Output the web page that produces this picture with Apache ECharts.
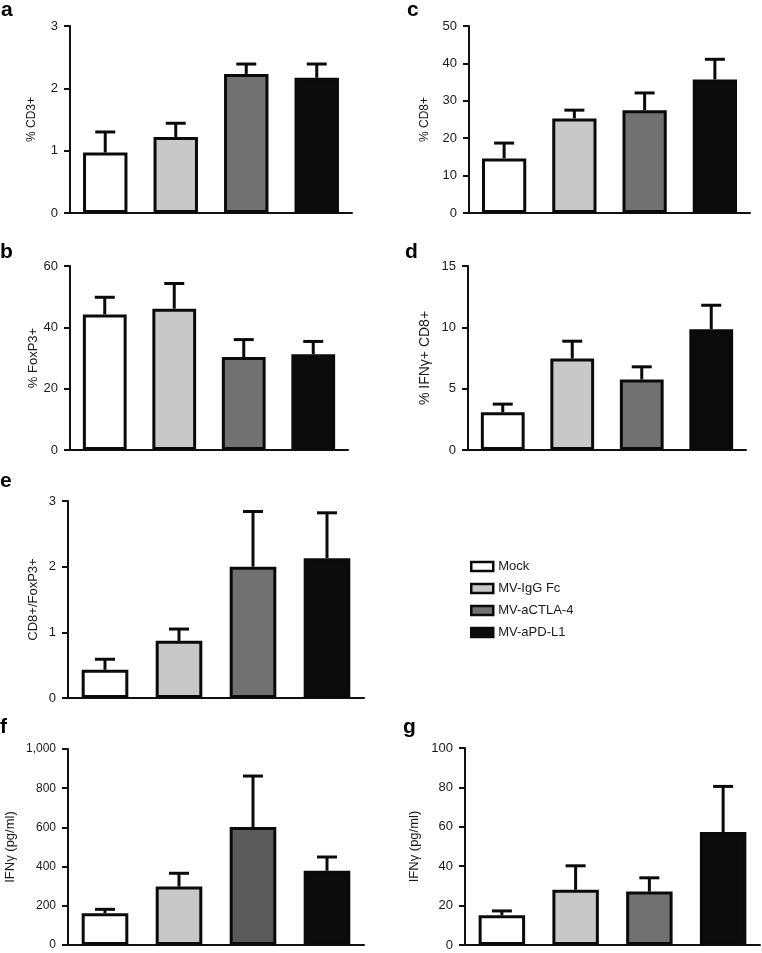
<!DOCTYPE html>
<html>
<head>
<meta charset="utf-8">
<script src="https://cdn.jsdelivr.net/npm/echarts@6/dist/echarts.min.js"></script>
<style>
html,body{margin:0;padding:0;background:#fff;}
#chart{width:762px;height:953px;}
</style>
</head>
<body>
<div id="chart"></div>
<script>
const categories = ['Mock', 'MV-IgG Fc', 'MV-aCTLA-4', 'MV-aPD-L1'];

const meanA = [0.97, 1.22, 2.23, 2.17];
const semA  = [0.33, 0.22, 0.16, 0.22];
const meanB = [44.2, 46.1, 30.3, 31.2];
const semB  = [5.6, 8.2, 5.7, 4.2];
const meanC = [14.6, 25.3, 27.5, 35.7];
const semC  = [4.1, 2.2, 4.6, 5.4];
const meanD = [3.07, 7.46, 5.75, 9.85];
const semD  = [0.67, 1.41, 1.03, 1.95];
const meanE = [0.43, 0.87, 2.0, 2.13];
const semE  = [0.16, 0.18, 0.84, 0.69];
const meanF = [162, 298, 602, 379];
const semF  = [20, 68, 260, 70];
const meanG = [15.1, 28.0, 27.1, 57.3];
const semG  = [2.2, 12.2, 7.0, 23.2];

const ticksA = [0, 3, 1];
const ticksB = [0, 60, 20];
const ticksC = [0, 50, 10];
const ticksD = [0, 15, 5];
const ticksE = [0, 3, 1];
const ticksF = [0, 1000, 200];
const ticksG = [0, 100, 20];

const colorsStd = ['#ffffff', '#c8c8c8', '#717171', '#0b0b0b'];
const colorsF   = ['#ffffff', '#c8c8c8', '#5a5a5a', '#0b0b0b'];

const FONT = '"Liberation Sans", Arial, Helvetica, sans-serif';

const panels = [
  {letter:'a', mean:meanA, sem:semA, ticks:ticksA, name:'% CD3+', colors:colorsStd,
   grid:{left:70, top:26, width:282, height:187}, nameGap:32, nameSize:12, tickSize:13, lx:1, ly:20},
  {letter:'c', mean:meanC, sem:semC, ticks:ticksC, name:'% CD8+', colors:colorsStd,
   grid:{left:469, top:26, width:281, height:187}, nameGap:38, nameSize:12, tickSize:13, lx:407, ly:20},
  {letter:'b', mean:meanB, sem:semB, ticks:ticksB, name:'% FoxP3+', colors:colorsStd,
   grid:{left:70, top:266, width:278, height:184}, nameGap:30, nameSize:13, tickSize:13, lx:0, ly:262},
  {letter:'d', mean:meanD, sem:semD, ticks:ticksD, name:'% IFN\u03b3+ CD8+', colors:colorsStd,
   grid:{left:468, top:266, width:278, height:184}, nameGap:36, nameSize:14, tickSize:13, lx:405, ly:262},
  {letter:'e', mean:meanE, sem:semE, ticks:ticksE, name:'CD8+/FoxP3+', colors:colorsStd,
   grid:{left:68, top:501, width:296, height:197}, nameGap:28, nameSize:13, tickSize:13, lx:0, ly:491},
  {letter:'f', mean:meanF, sem:semF, ticks:ticksF, name:'IFN\u03b3 (pg/ml)', colors:colorsF,
   grid:{left:68, top:749, width:296, height:196}, nameGap:51, nameSize:13, tickSize:12, lx:0, ly:737, comma:true},
  {letter:'g', mean:meanG, sem:semG, ticks:ticksG, name:'IFN\u03b3 (pg/ml)', colors:colorsStd,
   grid:{left:465, top:748, width:295, height:197}, nameGap:44, nameSize:13, tickSize:13, lx:403, ly:737}
];

const grids = [], xAxes = [], yAxes = [], series = [], graphics = [];

panels.forEach((p, i) => {
  grids.push(Object.assign({containLabel:false}, p.grid));
  xAxes.push({
    type:'category', gridIndex:i, data:categories,
    axisLine:{show:true, lineStyle:{color:'#111', width:2}},
    axisTick:{show:false}, axisLabel:{show:false}, splitLine:{show:false}
  });
  yAxes.push({
    type:'value', gridIndex:i, min:p.ticks[0], max:p.ticks[1], interval:p.ticks[2],
    name:p.name, nameLocation:'middle', nameGap:p.nameGap, nameRotate:90,
    nameTextStyle:{fontFamily:FONT, fontSize:p.nameSize, color:'#1a1a1a'},
    axisLine:{show:true, lineStyle:{color:'#111', width:2}},
    axisTick:{show:true, length:6, lineStyle:{color:'#111', width:2}},
    axisLabel:{fontFamily:FONT, fontSize:p.tickSize, color:'#1a1a1a', margin:12,
      formatter: v => p.comma ? v.toLocaleString('en-US') : String(v)},
    splitLine:{show:false}
  });
  series.push({
    type:'bar', xAxisIndex:i, yAxisIndex:i, barWidth:'63%', silent:true,
    data: p.mean.map((v, k) => ({value:v, itemStyle:{color:p.colors[k], borderColor:'#0a0a0a', borderWidth:3}})),
    z:2
  });
  series.push({
    type:'custom', xAxisIndex:i, yAxisIndex:i, silent:true, z:3,
    data: p.mean.map((v, k) => [k, v, v + p.sem[k]]),
    renderItem: function(params, api) {
      const x = api.value(0), m = api.value(1), t = api.value(2);
      const p0 = api.coord([x, m]);
      const p1 = api.coord([x, t]);
      const half = 10;
      return {type:'group', children:[
        {type:'line', shape:{x1:p0[0], y1:p0[1], x2:p1[0], y2:p1[1]}, style:{stroke:'#0a0a0a', lineWidth:3}},
        {type:'line', shape:{x1:p1[0]-half, y1:p1[1], x2:p1[0]+half, y2:p1[1]}, style:{stroke:'#0a0a0a', lineWidth:3}}
      ]};
    }
  });
  graphics.push({type:'text', left:p.lx, top:p.ly - 20,
    style:{text:p.letter, font:'bold 21px ' + FONT, fill:'#000'}});
});

// legend-only series (no marks)
categories.forEach((c, k) => {
  series.push({type:'scatter', name:c, xAxisIndex:0, yAxisIndex:0, data:[],
    itemStyle:{color:colorsStd[k], opacity:1, borderColor:'#0a0a0a', borderWidth:2.5}});
});

const chart = echarts.init(document.getElementById('chart'), null, {renderer:'canvas'});
chart.setOption({
  animation:false,
  backgroundColor:'#ffffff',
  grid:grids, xAxis:xAxes, yAxis:yAxes, series:series,
  legend:{
    orient:'vertical', left:470, top:560, itemGap:9, padding:0,
    icon:'rect', itemWidth:22, itemHeight:9, itemTextGap:9, selectedMode:false,
    textStyle:{fontFamily:FONT, fontSize:13, color:'#1a1a1a'},
    data: categories.map((c, k) => ({name:c, icon:'rect',
      itemStyle:{color:colorsStd[k], opacity:1, borderColor:'#0a0a0a', borderWidth:2.5}}))
  },
  graphic:graphics
});
</script>
</body>
</html>
